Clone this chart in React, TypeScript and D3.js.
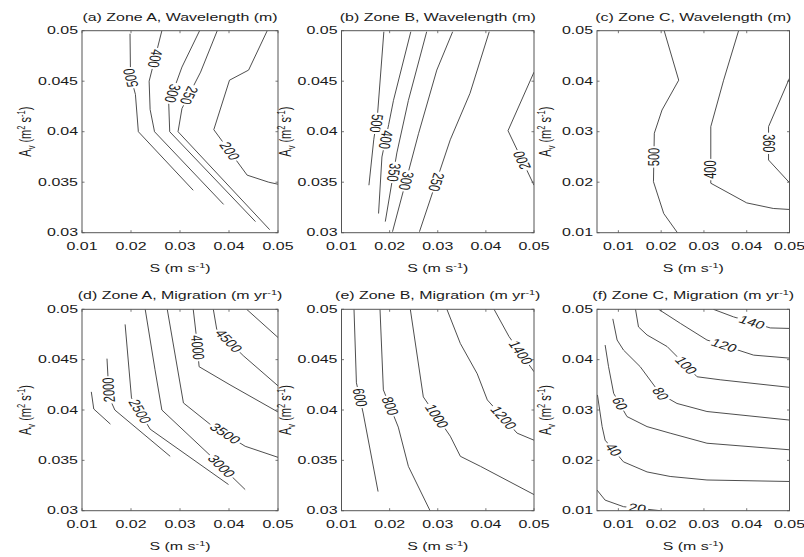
import React from "react";
import * as d3 from "d3";

type Pt = [number, number];
type Contour = { level: number; pts: Pt[]; lab?: Pt; flip?: boolean };

// tick values
const xTicks = [0.01, 0.02, 0.03, 0.04, 0.05];
const yTicksAB = [0.03, 0.035, 0.04, 0.045, 0.05];
const yTicksC = [0.01, 0.02, 0.03, 0.04, 0.05];

// contour lines, points as [S, Av]
const wavelengthA: Contour[] = [
  { level: 500, pts: [[0.0198, 0.0497], [0.0199, 0.0455], [0.0209, 0.0437], [0.0215, 0.04], [0.0327, 0.0342]], lab: [0.0197, 0.0453], flip: true },
  { level: 400, pts: [[0.0263, 0.05], [0.0237, 0.045], [0.0239, 0.0422], [0.0248, 0.04], [0.0389, 0.0328]], lab: [0.0245, 0.0473] },
  { level: 300, pts: [[0.034, 0.05], [0.0304, 0.0464], [0.0277, 0.0428], [0.0279, 0.04], [0.0454, 0.0311]], lab: [0.0284, 0.0438] },
  { level: 250, pts: [[0.0376, 0.05], [0.0342, 0.0459], [0.0304, 0.0423], [0.0296, 0.04], [0.0483, 0.0303]], lab: [0.0318, 0.0436] },
  { level: 200, pts: [[0.0478, 0.05], [0.044, 0.0461], [0.0401, 0.0451], [0.0369, 0.0402], [0.0437, 0.0357], [0.0481, 0.035], [0.05, 0.0348]], lab: [0.0396, 0.0379] },
];

const wavelengthB: Contour[] = [
  { level: 500, pts: [[0.0188, 0.0499], [0.0175, 0.0418], [0.0167, 0.0392], [0.0157, 0.0347]], lab: [0.0175, 0.0408] },
  { level: 400, pts: [[0.0244, 0.0499], [0.0208, 0.0431], [0.0198, 0.0407], [0.0184, 0.0375], [0.0177, 0.0319]], lab: [0.0193, 0.0392] },
  { level: 350, pts: [[0.0277, 0.0499], [0.0239, 0.0431], [0.0215, 0.0379], [0.0191, 0.0311]], lab: [0.0205, 0.036] },
  { level: 300, pts: [[0.0331, 0.0499], [0.0298, 0.0461], [0.026, 0.0398], [0.0206, 0.0301]], lab: [0.0236, 0.0351] },
  { level: 250, pts: [[0.0407, 0.0499], [0.0367, 0.0438], [0.0326, 0.0392], [0.0262, 0.0301]], lab: [0.0291, 0.0351] },
  { level: 200, pts: [[0.05, 0.0459], [0.0446, 0.0401], [0.05, 0.0347]], lab: [0.0463, 0.0369], flip: true },
];

const wavelengthC: Contour[] = [
  { level: 500, pts: [[0.0207, 0.05], [0.0241, 0.0402], [0.0202, 0.0343], [0.0184, 0.0297], [0.0182, 0.0201], [0.0206, 0.0138], [0.0238, 0.01]], lab: [0.0182, 0.025], flip: true },
  { level: 400, pts: [[0.0381, 0.05], [0.0346, 0.0402], [0.0316, 0.031], [0.0316, 0.0198], [0.04, 0.0159], [0.0462, 0.0148], [0.05, 0.0146]], lab: [0.0316, 0.0225], flip: true },
  { level: 360, pts: [[0.05, 0.0406], [0.0451, 0.031], [0.0451, 0.0244], [0.05, 0.0199]], lab: [0.0451, 0.0277] },
];

const migrationA: Contour[] = [
  { level: 1500, pts: [[0.0119, 0.0418], [0.0124, 0.0401], [0.0158, 0.0386]] },
  { level: 2000, pts: [[0.0151, 0.0451], [0.0153, 0.0433], [0.0156, 0.0412], [0.0167, 0.04], [0.028, 0.0354]], lab: [0.0155, 0.042], flip: true },
  { level: 2500, pts: [[0.0188, 0.0485], [0.0201, 0.0412], [0.0239, 0.0381], [0.0399, 0.0326]], lab: [0.0216, 0.0398] },
  { level: 3000, pts: [[0.0229, 0.05], [0.0249, 0.044], [0.0263, 0.04], [0.0357, 0.0357], [0.0433, 0.0321]], lab: [0.0384, 0.0344] },
  { level: 3500, pts: [[0.0274, 0.05], [0.0307, 0.0407], [0.0361, 0.0386], [0.0433, 0.0364], [0.05, 0.0353]], lab: [0.039, 0.0375] },
  { level: 4000, pts: [[0.0327, 0.05], [0.0333, 0.0475], [0.0339, 0.0443], [0.0402, 0.0425], [0.05, 0.0398]], lab: [0.0334, 0.0462] },
  { level: 4500, pts: [[0.0368, 0.05], [0.0375, 0.048], [0.0429, 0.0454], [0.05, 0.0424]], lab: [0.0398, 0.0468] },
  { level: 5000, pts: [[0.0436, 0.05], [0.05, 0.0472]] },
];

const migrationB: Contour[] = [
  { level: 600, pts: [[0.0126, 0.05], [0.0131, 0.0427], [0.0145, 0.0397], [0.0176, 0.0319]], lab: [0.0134, 0.0412] },
  { level: 800, pts: [[0.018, 0.05], [0.0187, 0.042], [0.0218, 0.0383], [0.0239, 0.0344], [0.0284, 0.03]], lab: [0.0201, 0.0404] },
  { level: 1000, pts: [[0.0243, 0.05], [0.027, 0.0413], [0.0326, 0.0374], [0.0347, 0.0354], [0.0389, 0.0344], [0.05, 0.0316]], lab: [0.0295, 0.0393] },
  { level: 1200, pts: [[0.0319, 0.05], [0.0347, 0.0466], [0.0382, 0.0436], [0.0403, 0.041], [0.0465, 0.0377], [0.05, 0.037]], lab: [0.0431, 0.039] },
  { level: 1400, pts: [[0.0417, 0.05], [0.0448, 0.0473], [0.05, 0.0438]], lab: [0.0466, 0.0455] },
];

const migrationC: Contour[] = [
  { level: 20, pts: [[0.005, 0.0141], [0.0069, 0.0121], [0.0112, 0.0108], [0.0198, 0.01]], lab: [0.0144, 0.0104] },
  { level: 40, pts: [[0.0051, 0.033], [0.0062, 0.0267], [0.0069, 0.024], [0.0112, 0.0197], [0.0167, 0.0177], [0.0221, 0.0168], [0.0307, 0.0161], [0.05, 0.0158]], lab: [0.0083, 0.0217] },
  { level: 60, pts: [[0.0069, 0.0429], [0.0077, 0.0386], [0.0089, 0.0333], [0.012, 0.0287], [0.0167, 0.0267], [0.0221, 0.0254], [0.0307, 0.0234], [0.05, 0.0221]], lab: [0.0097, 0.031] },
  { level: 80, pts: [[0.0087, 0.0481], [0.0097, 0.0439], [0.0112, 0.0419], [0.0151, 0.0386], [0.0198, 0.0332], [0.0237, 0.0313], [0.0307, 0.0297], [0.05, 0.028]], lab: [0.0198, 0.0332] },
  { level: 100, pts: [[0.014, 0.05], [0.0147, 0.0465], [0.0167, 0.0449], [0.0214, 0.0426], [0.0284, 0.0366], [0.0338, 0.036], [0.05, 0.0345]], lab: [0.0256, 0.0387] },
  { level: 120, pts: [[0.0194, 0.05], [0.0245, 0.0472], [0.0307, 0.0439], [0.0416, 0.0409], [0.05, 0.0403]], lab: [0.0345, 0.0423] },
  { level: 140, pts: [[0.0322, 0.05], [0.0369, 0.0485], [0.0455, 0.0463], [0.05, 0.0462]], lab: [0.0411, 0.0471] },
];

const SX = 1.45; // the picture is stretched horizontally
const FS = 11;
const FONT = "'Liberation Sans', Arial, Helvetica, sans-serif";
const INK = "#1a1a1a";

const cols = [[82, 278], [341.5, 534], [597, 789.5]];
const rows = [[30.7, 232.7], [309.3, 510.7]];

type PanelDef = {
  id: string; title: string; sup?: string;
  xDomain: [number, number]; yDomain: [number, number]; yTicks: number[];
  lines: Contour[]; col: number; row: number;
};

const panels: PanelDef[] = [
  { id: "a", title: "(a) Zone A, Wavelength (m)", xDomain: [0.01, 0.05], yDomain: [0.03, 0.05], yTicks: yTicksAB, lines: wavelengthA, col: 0, row: 0 },
  { id: "b", title: "(b) Zone B, Wavelength (m)", xDomain: [0.01, 0.05], yDomain: [0.03, 0.05], yTicks: yTicksAB, lines: wavelengthB, col: 1, row: 0 },
  { id: "c", title: "(c) Zone C, Wavelength (m)", xDomain: [0.005, 0.05], yDomain: [0.01, 0.05], yTicks: yTicksC, lines: wavelengthC, col: 2, row: 0 },
  { id: "d", title: "(d) Zone A, Migration (m yr", sup: "-1", xDomain: [0.01, 0.05], yDomain: [0.03, 0.05], yTicks: yTicksAB, lines: migrationA, col: 0, row: 1 },
  { id: "e", title: "(e) Zone B, Migration (m yr", sup: "-1", xDomain: [0.01, 0.05], yDomain: [0.03, 0.05], yTicks: yTicksAB, lines: migrationB, col: 1, row: 1 },
  { id: "f", title: "(f) Zone C, Migration (m yr", sup: "-1", xDomain: [0.005, 0.05], yDomain: [0.01, 0.05], yTicks: yTicksC, lines: migrationC, col: 2, row: 1 },
];

const st = (x: number, y: number, rot = 0) =>
  `translate(${x},${y}) scale(${SX},1)` + (rot ? ` rotate(${rot})` : "");

function nearestOnLine(pts: Pt[], p: Pt) {
  let best = { d: Infinity, x: 0, y: 0, dx: 1, dy: 0 };
  for (let i = 0; i < pts.length - 1; i++) {
    const [x1, y1] = pts[i];
    const [x2, y2] = pts[i + 1];
    const vx = x2 - x1, vy = y2 - y1;
    const L = vx * vx + vy * vy;
    let t = L ? ((p[0] - x1) * vx + (p[1] - y1) * vy) / L : 0;
    t = Math.max(0, Math.min(1, t));
    const qx = x1 + t * vx, qy = y1 + t * vy;
    const d = (qx - p[0]) ** 2 + (qy - p[1]) ** 2;
    if (d < best.d) best = { d, x: qx, y: qy, dx: vx, dy: vy };
  }
  return best;
}

function Panel({ p }: { p: PanelDef }) {
  const [x0, x1] = cols[p.col];
  const [y0, y1] = rows[p.row];
  const x = d3.scaleLinear().domain(p.xDomain).range([x0, x1]);
  const y = d3.scaleLinear().domain(p.yDomain).range([y1, y0]);
  const line = d3.line<Pt>().x(d => x(d[0])).y(d => y(d[1]));
  const tk = 2.5;
  const cx = (x0 + x1) / 2, cy = (y0 + y1) / 2;
  const yOff = p.yTicks.some(v => String(v).length > 4) ? 51 : 46;

  return (
    <g>
      <defs>
        <clipPath id={"clip" + p.id}>
          <rect x={x0} y={y0} width={x1 - x0} height={y1 - y0} />
        </clipPath>
      </defs>
      <g clipPath={`url(#clip${p.id})`}>
        {p.lines.map((c, i) => (
          <path key={i} d={line(c.pts) || ""} fill="none" stroke="#3a3a3a" strokeWidth={0.9} />
        ))}
        {p.lines.filter(c => c.lab).map((c, i) => {
          const px = c.pts.map(q => [x(q[0]), y(q[1])] as Pt);
          const n = nearestOnLine(px, [x(c.lab![0]), y(c.lab![1])]);
          let ang = (Math.atan2(n.dy, n.dx / SX) * 180) / Math.PI;
          if (c.flip) ang += 180;
          const txt = String(c.level);
          const w = txt.length * 0.556 * FS + 3;
          return (
            <g key={"l" + i} transform={st(n.x, n.y, ang)}>
              <rect x={-w / 2} y={-5} width={w} height={10} fill="#fff" />
              <text textAnchor="middle" dominantBaseline="central" fontSize={FS} fill={INK}>{txt}</text>
            </g>
          );
        })}
      </g>
      {/* ticks, inside on all four sides */}
      <g stroke="#555" strokeWidth={0.8}>
        {xTicks.map(v => (
          <g key={"xt" + v}>
            <line x1={x(v)} x2={x(v)} y1={y1} y2={y1 - tk} />
            <line x1={x(v)} x2={x(v)} y1={y0} y2={y0 + tk} />
          </g>
        ))}
        {p.yTicks.map(v => (
          <g key={"yt" + v}>
            <line x1={x0} x2={x0 + tk} y1={y(v)} y2={y(v)} />
            <line x1={x1} x2={x1 - tk} y1={y(v)} y2={y(v)} />
          </g>
        ))}
      </g>
      <rect x={x0} y={y0} width={x1 - x0} height={y1 - y0} fill="none" stroke="#555" strokeWidth={1} />
      {xTicks.map(v => (
        <text key={"xl" + v} transform={st(x(v), y1 + 17)} textAnchor="middle" fontSize={FS} fill={INK}>{v}</text>
      ))}
      {p.yTicks.map(v => (
        <text key={"yl" + v} transform={st(x0 - 4, y(v))} textAnchor="end" dominantBaseline="central" fontSize={FS} fill={INK}>{v}</text>
      ))}
      <text transform={st(cx, y0 - 10)} textAnchor="middle" fontSize={FS} fill={INK}>
        {p.title}
        {p.sup ? (
          <>
            <tspan fontSize={7.5} dy={-4}>{p.sup}</tspan>
            <tspan dy={4}>)</tspan>
          </>
        ) : null}
      </text>
      <text transform={st(cx, y1 + 39)} textAnchor="middle" fontSize={FS} fill={INK}>
        S (m s<tspan fontSize={7.5} dy={-4}>-1</tspan><tspan dy={4}>)</tspan>
      </text>
      <text transform={st(x0 - yOff, cy, -90)} textAnchor="middle" fontSize={FS} fill={INK}>
        A<tspan fontSize={7.5} dy={3}>v</tspan><tspan dy={-3}> (m</tspan>
        <tspan fontSize={7.5} dy={-4}>2</tspan><tspan dy={4}> s</tspan>
        <tspan fontSize={7.5} dy={-4}>-1</tspan><tspan dy={4}>)</tspan>
      </text>
    </g>
  );
}

export default function App() {
  return (
    <svg width={804} height={557} style={{ position: "absolute", left: 0, top: 0, background: "#fff" }} fontFamily={FONT}>
      <rect width={804} height={557} fill="#fff" />
      {panels.map(p => <Panel key={p.id} p={p} />)}
    </svg>
  );
}
